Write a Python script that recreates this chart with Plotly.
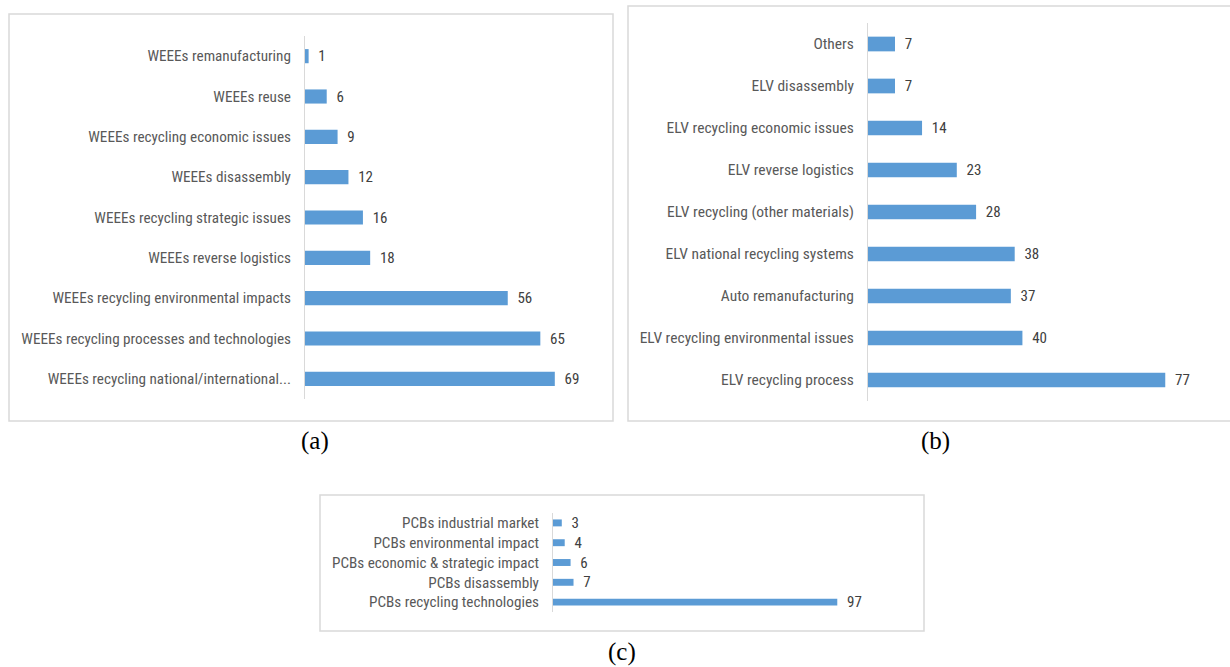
import plotly.graph_objects as go

W, H = 1230, 667

# ---- data ----
weee_cats = ["WEEEs remanufacturing", "WEEEs reuse", "WEEEs recycling economic issues",
             "WEEEs disassembly", "WEEEs recycling strategic issues", "WEEEs reverse logistics",
             "WEEEs recycling environmental impacts", "WEEEs recycling processes and technologies",
             "WEEEs recycling national/international..."]
weee_vals = [1, 6, 9, 12, 16, 18, 56, 65, 69]

elv_cats = ["Others", "ELV disassembly", "ELV recycling economic issues", "ELV reverse logistics",
            "ELV recycling (other materials)", "ELV national recycling systems",
            "Auto remanufacturing", "ELV recycling environmental issues", "ELV recycling process"]
elv_vals = [7, 7, 14, 23, 28, 38, 37, 40, 77]

pcb_cats = ["PCBs industrial market", "PCBs environmental impact",
            "PCBs economic & strategic impact", "PCBs disassembly", "PCBs recycling technologies"]
pcb_vals = [3, 4, 6, 7, 97]

captions = ["(a)", "(b)", "(c)"]

BAR = "#5b9bd5"
TICK = "#595959"
VAL = "#404040"
LINE = "#d9d9d9"
FONT = "Liberation Sans Narrow, Roboto Condensed, Arial Narrow, Liberation Sans, sans-serif"


def px_x(p):
    return p / W


def px_y(p):
    return 1 - p / H


fig = go.Figure()

panels = [
    (weee_cats, weee_vals, "x", "y", 15),
    (elv_cats, elv_vals, "x2", "y2", 15),
    (pcb_cats, pcb_vals, "x3", "y3", 15),
]
for cats, vals, xa, ya, fs in panels:
    fig.add_trace(go.Bar(
        x=vals, y=cats, orientation="h", xaxis=xa, yaxis=ya,
        marker=dict(color=BAR, line=dict(width=0)),
        texttemplate="\u2002%{x}", textposition="outside", constraintext="none",
        textfont=dict(color=VAL, size=fs, family=FONT),
        cliponaxis=False, showlegend=False,
    ))

def xax(d0, d1, r1, anchor):
    return dict(domain=[px_x(d0), px_x(d1)], range=[0, r1], visible=False, anchor=anchor)

def yax(d0, d1, anchor, size):
    return dict(domain=[px_y(d1), px_y(d0)], autorange="reversed", anchor=anchor,
                showline=True, linecolor=LINE, linewidth=1, ticks="", showgrid=False,
                tickfont=dict(color=TICK, size=size, family=FONT), ticklabelstandoff=10)

fig.update_layout(
    width=W, height=H, margin=dict(l=0, r=0, t=0, b=0),
    paper_bgcolor="white", plot_bgcolor="white",
    bargap=0.65,
    uniformtext=dict(mode=False),
    xaxis=xax(305, 595, 80.1, "y"),
    yaxis=yax(36, 399, "x", 15.2),
    xaxis2=xax(868, 1200, 86.0, "y2"),
    yaxis2=yax(23, 401, "x2", 15.5),
    xaxis3=xax(553, 900, 118.4, "y3"),
    yaxis3=yax(513, 612, "x3", 15.2),
)

boxes = [(9, 14, 613, 421), (628, 6, 1232, 421), (320, 495, 924, 631)]
for x0, y0, x1, y1 in boxes:
    fig.add_shape(type="rect", xref="paper", yref="paper",
                  x0=px_x(x0), x1=px_x(x1), y0=px_y(y1), y1=px_y(y0),
                  line=dict(color=LINE, width=1.5), fillcolor="rgba(0,0,0,0)", layer="below")

cap_pos = [(315, 441), (935, 441), (622, 652)]
for txt, (cx, cy) in zip(captions, cap_pos):
    fig.add_annotation(text=txt, xref="paper", yref="paper", x=px_x(cx), y=px_y(cy),
                       showarrow=False, xanchor="center", yanchor="middle",
                       font=dict(family="Liberation Serif, Times New Roman, serif", size=25, color="black"))

fig.write_html("out.html")
